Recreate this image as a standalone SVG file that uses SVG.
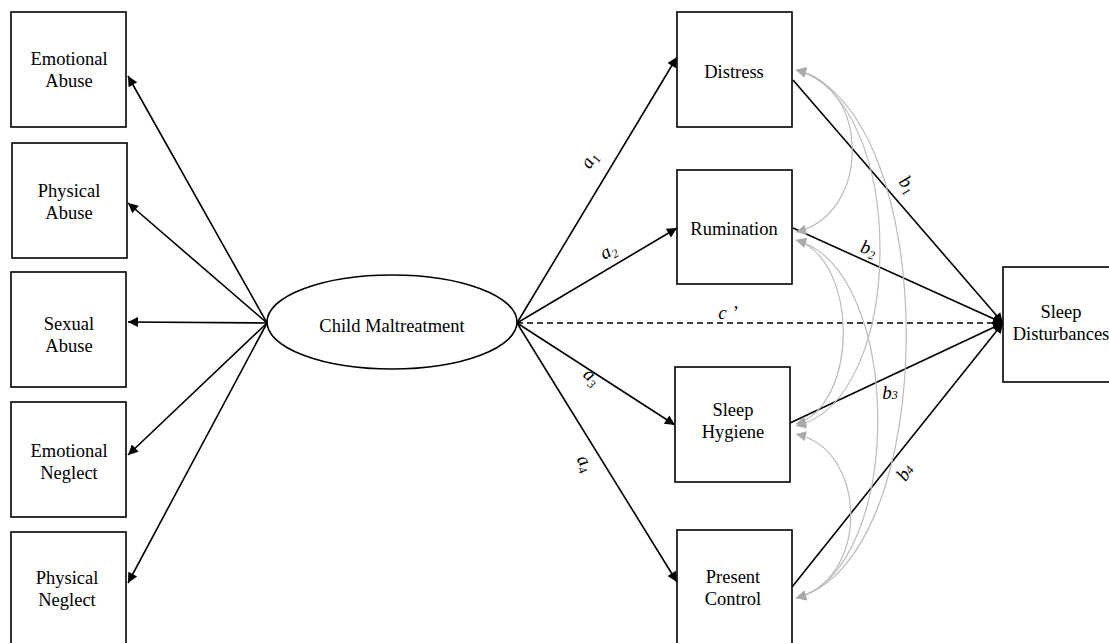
<svg xmlns="http://www.w3.org/2000/svg" width="1109" height="643" viewBox="0 0 1109 643">
<style>
.box{fill:#fff;stroke:#000;stroke-width:1.6}
.lbl{font-family:"Liberation Serif","Times New Roman",serif;font-size:18.5px;fill:#000;text-anchor:middle}
.it{font-family:"Liberation Serif","Times New Roman",serif;font-size:19px;font-style:italic;fill:#000;text-anchor:middle}
.sub{font-size:12px}
.arr{stroke:#000;stroke-width:1.6;fill:none;marker-end:url(#ah)}
.cov{stroke:#bcbcbc;stroke-width:1.2;fill:none;marker-start:url(#gh);marker-end:url(#gh)}
</style>
<defs>
<marker id="ah" viewBox="0 0 10 10" refX="10" refY="5" markerWidth="13" markerHeight="10" markerUnits="userSpaceOnUse" orient="auto"><path d="M0,0 L10,5 L0,10 z" fill="#000"/></marker>
<marker id="gh" viewBox="0 0 10 10" refX="10" refY="5" markerWidth="12" markerHeight="10" markerUnits="userSpaceOnUse" orient="auto-start-reverse"><path d="M0,0 L10,5 L0,10 z" fill="#aaa"/></marker>
</defs>
<rect width="1109" height="643" fill="#fff"/>
<g id="connectors">
<line class="arr" x1="267" y1="323" x2="128" y2="76"/>
<line class="arr" x1="267" y1="323" x2="128" y2="203"/>
<line class="arr" x1="267" y1="323" x2="128" y2="322"/>
<line class="arr" x1="267" y1="323" x2="128" y2="455"/>
<line class="arr" x1="267" y1="323" x2="128" y2="583"/>
<line class="arr" x1="517" y1="323" x2="677" y2="57"/>
<line class="arr" x1="517" y1="323" x2="677" y2="228"/>
<line class="arr" x1="517" y1="323" x2="675" y2="425"/>
<line class="arr" x1="517" y1="323" x2="677" y2="582"/>
<line class="arr" x1="517" y1="323" x2="1003" y2="323" stroke-dasharray="6 4"/>
<line class="arr" x1="793" y1="80" x2="1003" y2="323"/>
<line class="arr" x1="793" y1="228" x2="1003" y2="323"/>
<line class="arr" x1="790" y1="423" x2="1003" y2="323"/>
<line class="arr" x1="792" y1="587" x2="1003" y2="323"/>
<path class="cov" d="M796,70 C871,85 871,215 796,232"/>
<path class="cov" d="M796,70 C908,100 908,400 796,426"/>
<path class="cov" d="M796,70 C943,110 943,560 796,598"/>
<path class="cov" d="M796,240 C859,260 859,405 796,424"/>
<path class="cov" d="M796,240 C905,270 905,570 796,598"/>
<path class="cov" d="M796,434 C869,450 869,580 796,598"/>
<text class="it" transform="translate(594,163) rotate(-59)">a<tspan class="sub" dy="4">1</tspan></text>
<text class="it" transform="translate(611,256) rotate(-30)">a<tspan class="sub" dy="4">2</tspan></text>
<text class="it" transform="translate(588,381) rotate(40)">a<tspan class="sub" dy="4">3</tspan></text>
<text class="it" transform="translate(580,466) rotate(60)">a<tspan class="sub" dy="4">4</tspan></text>
<text class="it" transform="translate(903,188) rotate(49)">b<tspan class="sub" dy="4">1</tspan></text>
<text class="it" transform="translate(867,254) rotate(15)">b<tspan class="sub" dy="4">2</tspan></text>
<text class="it" x="890" y="399">b<tspan class="sub">3</tspan></text>
<text class="it" transform="translate(910,476) rotate(-55)">b<tspan class="sub">4</tspan></text>
<text class="it" x="728" y="319">c ’</text>
</g>
<g id="emotional-abuse"><rect class="box" x="11" y="12" width="115" height="115"/><text class="lbl" x="69" y="65">Emotional</text><text class="lbl" x="69" y="87">Abuse</text></g>
<g id="physical-abuse"><rect class="box" x="12" y="143" width="115" height="115"/><text class="lbl" x="69" y="197">Physical</text><text class="lbl" x="69" y="219">Abuse</text></g>
<g id="sexual-abuse"><rect class="box" x="11" y="272" width="115" height="115"/><text class="lbl" x="69" y="330">Sexual</text><text class="lbl" x="69" y="352">Abuse</text></g>
<g id="emotional-neglect"><rect class="box" x="11" y="402" width="115" height="115"/><text class="lbl" x="69" y="457">Emotional</text><text class="lbl" x="69" y="479">Neglect</text></g>
<g id="physical-neglect"><rect class="box" x="11" y="532" width="115" height="115"/><text class="lbl" x="67" y="584">Physical</text><text class="lbl" x="67" y="606">Neglect</text></g>
<g id="child-maltreatment"><ellipse cx="392" cy="322" rx="125" ry="47" fill="#fff" stroke="#000" stroke-width="1.6"/><text class="lbl" x="392" y="332">Child Maltreatment</text></g>
<g id="distress"><rect class="box" x="677" y="12" width="115" height="115"/><text class="lbl" x="734" y="78">Distress</text></g>
<g id="rumination"><rect class="box" x="677" y="170" width="115" height="114"/><text class="lbl" x="734" y="235">Rumination</text></g>
<g id="sleep-hygiene"><rect class="box" x="675" y="367" width="115" height="115"/><text class="lbl" x="733" y="416">Sleep</text><text class="lbl" x="733" y="438">Hygiene</text></g>
<g id="present-control"><rect class="box" x="677" y="530" width="115" height="115"/><text class="lbl" x="733" y="583">Present</text><text class="lbl" x="733" y="605">Control</text></g>
<g id="sleep-disturbances"><rect class="box" x="1003" y="267" width="115" height="115"/><text class="lbl" x="1061" y="318">Sleep</text><text class="lbl" x="1061" y="340">Disturbances</text></g>
</svg>
